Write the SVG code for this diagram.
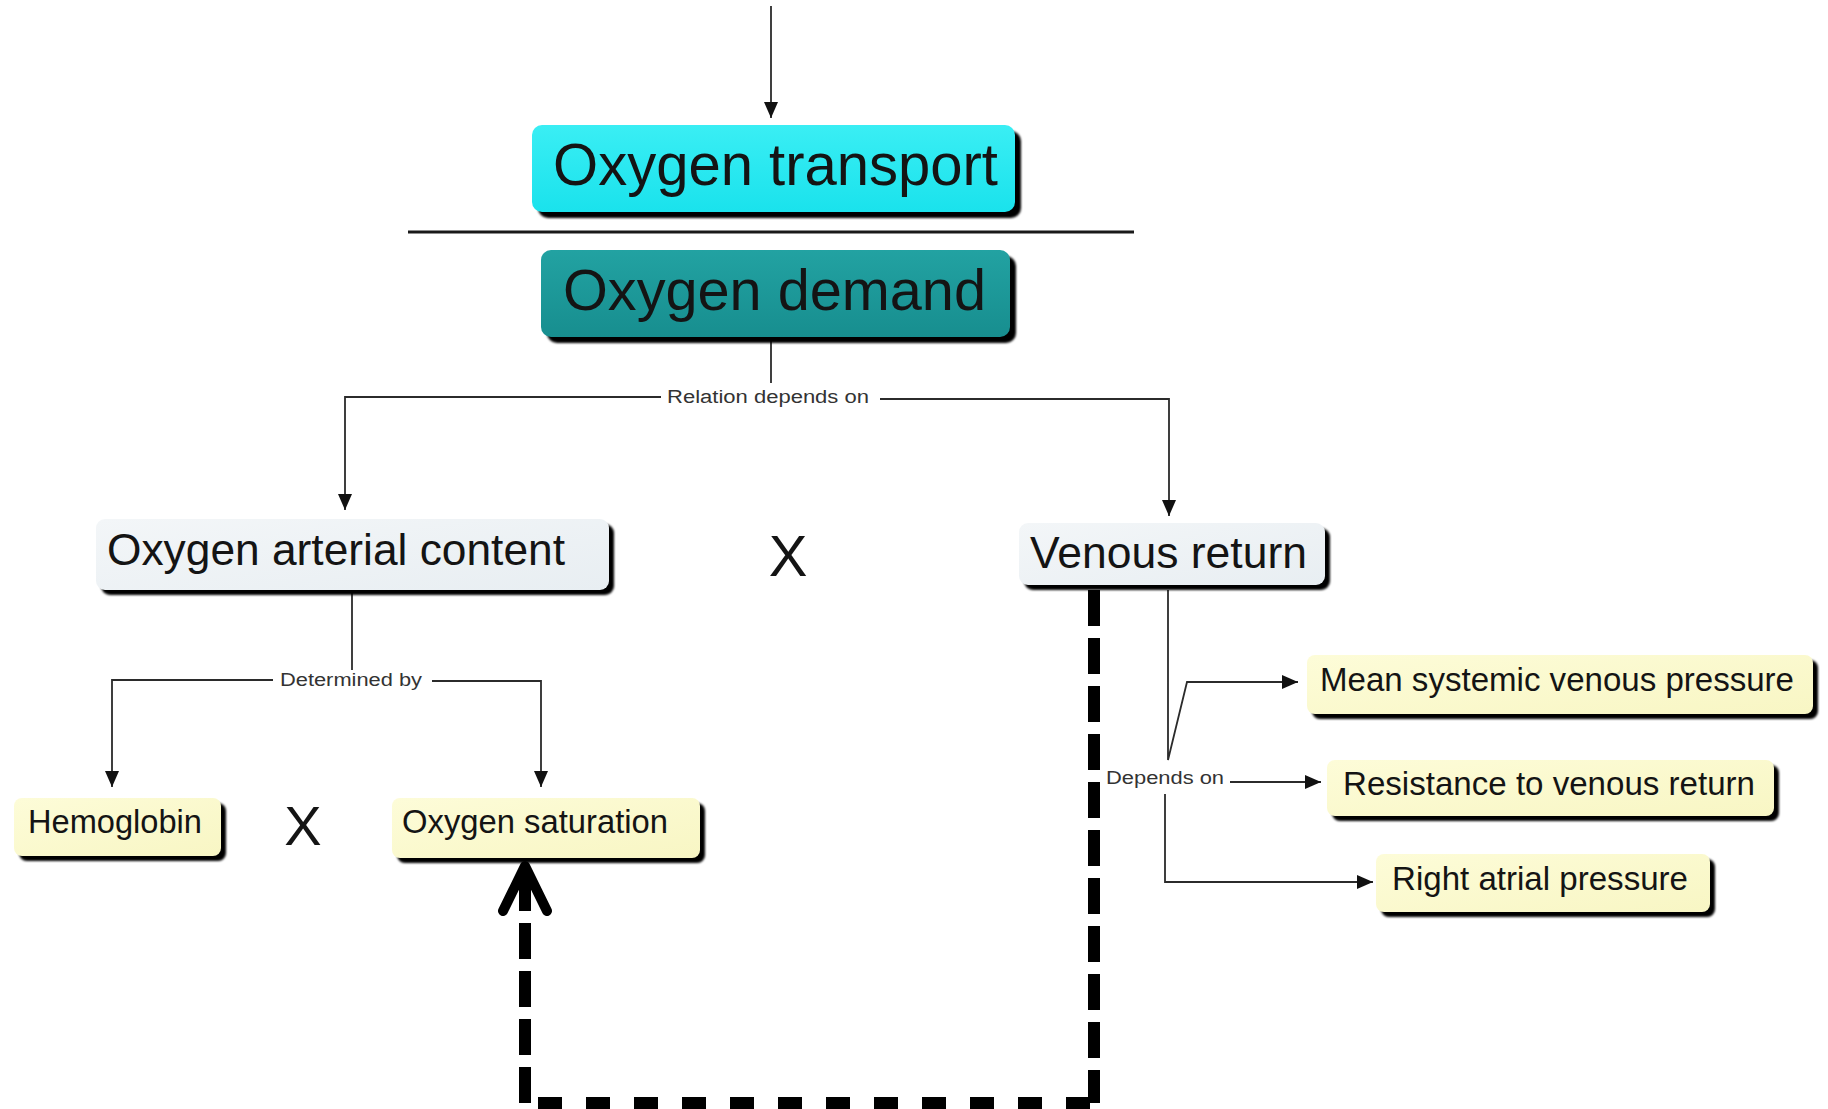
<svg xmlns="http://www.w3.org/2000/svg" width="1828" height="1109" viewBox="0 0 1828 1109">
  <style>
    .lbl { font-family: "Liberation Sans", Arial, Helvetica, sans-serif; fill: #141414; }
    .small { font-family: "Liberation Sans", Arial, Helvetica, sans-serif; fill: #333; font-size: 18px; }
    .shadow { fill: #000; filter: url(#soft); }
    .link { fill: none; stroke: #2b2b2b; stroke-width: 1.8; }
    .dash { fill: none; stroke: #000; stroke-width: 12; }
  </style>
  <defs>
    <filter id="soft" x="-5%" y="-20%" width="110%" height="140%">
      <feGaussianBlur stdDeviation="1.2"/>
    </filter>
    <linearGradient id="gCyan" x1="0" y1="0" x2="0" y2="1">
      <stop offset="0" stop-color="#3aeef4"/>
      <stop offset="1" stop-color="#1ae2ec"/>
    </linearGradient>
    <linearGradient id="gTeal" x1="0" y1="0" x2="0" y2="1">
      <stop offset="0" stop-color="#22a2a2"/>
      <stop offset="1" stop-color="#178e8f"/>
    </linearGradient>
    <linearGradient id="gGrey" x1="0" y1="0" x2="1" y2="1">
      <stop offset="0" stop-color="#f3f6f8"/>
      <stop offset="1" stop-color="#e8eef2"/>
    </linearGradient>
    <linearGradient id="gCream" x1="0" y1="0" x2="1" y2="1">
      <stop offset="0" stop-color="#fdfcd8"/>
      <stop offset="1" stop-color="#f8f6c4"/>
    </linearGradient>
    <marker id="arrow" markerUnits="userSpaceOnUse" markerWidth="16" markerHeight="14" refX="16" refY="7" orient="auto">
      <path d="M0,0 L16,7 L0,14 Z" fill="#111"/>
    </marker>
  </defs>

  <rect width="1828" height="1109" fill="#fff"/>

  <!-- connectors -->
  <g id="connectors">
    <path class="link" d="M771,6 V118" marker-end="url(#arrow)"/>
    <line x1="408" y1="232" x2="1134" y2="232" stroke="#1a1a1a" stroke-width="3"/>
    <path class="link" d="M771,338 V383"/>
    <text class="small" x="667" y="403" textLength="202" lengthAdjust="spacingAndGlyphs">Relation depends on</text>
    <path class="link" d="M661,397 H345 V510" marker-end="url(#arrow)"/>
    <path class="link" d="M880,399 H1169 V516" marker-end="url(#arrow)"/>

    <path class="link" d="M352,592 V670"/>
    <text class="small" x="280" y="686" textLength="142" lengthAdjust="spacingAndGlyphs">Determined by</text>
    <path class="link" d="M273,680 H112 V787" marker-end="url(#arrow)"/>
    <path class="link" d="M432,681 H541 V787" marker-end="url(#arrow)"/>

    <path class="link" d="M1168,590 V760 L1187,682 H1298" marker-end="url(#arrow)"/>
    <text class="small" x="1106" y="784" textLength="118" lengthAdjust="spacingAndGlyphs">Depends on</text>
    <path class="link" d="M1230,782 H1321" marker-end="url(#arrow)"/>
    <path class="link" d="M1165,794 V882 H1373" marker-end="url(#arrow)"/>

    <!-- heavy dashed feedback path -->
    <path class="dash" d="M1094,590 V1103" stroke-dasharray="36 12"/>
    <path class="dash" d="M1094,1103 H525" stroke-dasharray="24 24" stroke-dashoffset="-4"/>
    <path class="dash" d="M525,1103 V872" stroke-dasharray="36 12"/>
    <path d="M503,911 L525,866 L547,911" fill="none" stroke="#000" stroke-width="10" stroke-linecap="round" stroke-linejoin="round"/>
  </g>

  <!-- nodes -->
  <g id="oxygen-transport">
    <rect class="shadow" x="538" y="131" width="483" height="87" rx="10"/>
    <rect x="532" y="125" width="483" height="87" rx="10" fill="url(#gCyan)"/>
    <text class="lbl" x="553" y="185" font-size="59" textLength="445" lengthAdjust="spacingAndGlyphs">Oxygen transport</text>
  </g>

  <g id="oxygen-demand">
    <rect class="shadow" x="547" y="256" width="469" height="87" rx="10"/>
    <rect x="541" y="250" width="469" height="87" rx="10" fill="url(#gTeal)"/>
    <text class="lbl" x="563" y="310" font-size="58" textLength="423" lengthAdjust="spacingAndGlyphs">Oxygen demand</text>
  </g>

  <g id="oxygen-arterial-content">
    <rect class="shadow" x="101" y="524" width="513" height="71" rx="9"/>
    <rect x="96" y="519" width="513" height="71" rx="9" fill="url(#gGrey)"/>
    <text class="lbl" x="107" y="565" font-size="44" textLength="458" lengthAdjust="spacingAndGlyphs">Oxygen arterial content</text>
  </g>

  <g id="times-1">
    <text class="lbl" x="788" y="576" font-size="58" text-anchor="middle">X</text>
  </g>

  <g id="venous-return">
    <rect class="shadow" x="1024" y="528" width="306" height="62" rx="9"/>
    <rect x="1019" y="523" width="306" height="62" rx="9" fill="url(#gGrey)"/>
    <text class="lbl" x="1030" y="568" font-size="44" textLength="277" lengthAdjust="spacingAndGlyphs">Venous return</text>
  </g>

  <g id="hemoglobin">
    <rect class="shadow" x="19" y="803" width="207" height="58" rx="8"/>
    <rect x="14" y="798" width="207" height="58" rx="8" fill="url(#gCream)"/>
    <text class="lbl" x="28" y="833" font-size="33" textLength="174" lengthAdjust="spacingAndGlyphs">Hemoglobin</text>
  </g>

  <g id="times-2">
    <text class="lbl" x="303" y="845" font-size="56" text-anchor="middle">X</text>
  </g>

  <g id="oxygen-saturation">
    <rect class="shadow" x="397" y="803" width="308" height="60" rx="8"/>
    <rect x="392" y="798" width="308" height="60" rx="8" fill="url(#gCream)"/>
    <text class="lbl" x="402" y="833" font-size="33" textLength="266" lengthAdjust="spacingAndGlyphs">Oxygen saturation</text>
  </g>

  <g id="mean-systemic-venous-pressure">
    <rect class="shadow" x="1312" y="660" width="506" height="59" rx="8"/>
    <rect x="1307" y="655" width="506" height="59" rx="8" fill="url(#gCream)"/>
    <text class="lbl" x="1320" y="691" font-size="33" textLength="474" lengthAdjust="spacingAndGlyphs">Mean systemic venous pressure</text>
  </g>

  <g id="resistance-to-venous-return">
    <rect class="shadow" x="1332" y="765" width="447" height="56" rx="8"/>
    <rect x="1327" y="760" width="447" height="56" rx="8" fill="url(#gCream)"/>
    <text class="lbl" x="1343" y="795" font-size="33" textLength="412" lengthAdjust="spacingAndGlyphs">Resistance to venous return</text>
  </g>

  <g id="right-atrial-pressure">
    <rect class="shadow" x="1381" y="859" width="334" height="58" rx="8"/>
    <rect x="1376" y="854" width="334" height="58" rx="8" fill="url(#gCream)"/>
    <text class="lbl" x="1392" y="890" font-size="33" textLength="296" lengthAdjust="spacingAndGlyphs">Right atrial pressure</text>
  </g>
</svg>
